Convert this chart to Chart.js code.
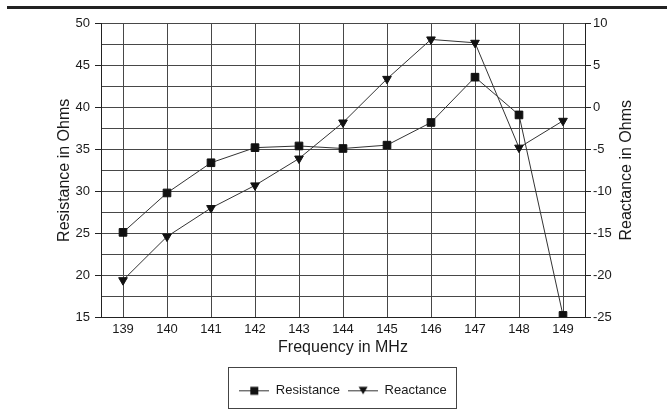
<!DOCTYPE html>
<html>
<head>
<meta charset="utf-8">
<script src="https://cdn.jsdelivr.net/npm/chart.js@4/dist/chart.umd.min.js"></script>
<style>
  html, body { margin: 0; padding: 0; background: #fff; }
  #wrap { position: relative; width: 667px; height: 410px; }
</style>
</head>
<body>
<div id="wrap"><canvas id="chart" width="667" height="410"></canvas></div>
<script>
// 数据
const frequencies = ['139', '140', '141', '142', '143', '144', '145', '146', '147', '148', '149'];
const resistance = [25.1, 29.8, 33.4, 35.2, 35.4, 35.1, 35.5, 38.2, 43.6, 39.1, 15.2];
const reactance = [-20.6, -15.4, -12.0, -9.3, -6.1, -1.8, 3.4, 8.1, 7.7, -4.8, -1.6];

const FONT = 'Liberation Sans, Arial, sans-serif';
const INK = '#1a1a1a';
const GRID = '#474747';

// 图例图标：线 + 标记
function legendIcon(kind) {
  const c = document.createElement('canvas');
  c.width = 30; c.height = 12;
  const g = c.getContext('2d');
  g.strokeStyle = '#333';
  g.lineWidth = 1;
  g.beginPath(); g.moveTo(0, 6.5); g.lineTo(30, 6.5); g.stroke();
  g.fillStyle = '#111';
  if (kind === 'rect') {
    g.fillRect(11, 2.5, 8, 8);
  } else {
    g.beginPath(); g.moveTo(10.5, 2.5); g.lineTo(19.5, 2.5); g.lineTo(15, 10); g.closePath(); g.fill();
  }
  return c;
}

const decor = {
  id: 'decor',
  beforeDraw(chart) {
    const ctx = chart.ctx;
    ctx.save();
    ctx.fillStyle = '#222';
    ctx.fillRect(7, 6, 660, 3);
    ctx.restore();
  },
  afterDraw(chart) {
    const ctx = chart.ctx;
    const area = chart.chartArea;
    ctx.save();
    // 右侧轴标题（自下而上）
    ctx.font = `16px ${FONT}`;
    ctx.fillStyle = INK;
    ctx.textAlign = 'center';
    ctx.textBaseline = 'middle';
    ctx.translate(627, (area.top + area.bottom) / 2);
    ctx.rotate(-Math.PI / 2);
    ctx.fillText('Reactance in Ohms', 0, 0);
    ctx.restore();

    // 图例边框
    const boxes = chart.legend.legendHitBoxes;
    if (boxes && boxes.length) {
      const first = boxes[0];
      const last = boxes[boxes.length - 1];
      const left = Math.round(first.left - 11) + 0.5;
      const right = Math.round(last.left + last.width + 9) + 0.5;
      ctx.save();
      ctx.strokeStyle = '#444';
      ctx.lineWidth = 1;
      ctx.strokeRect(left, 367.5, right - left, 41);
      ctx.restore();
    }
  },
};

new Chart(document.getElementById('chart').getContext('2d'), {
  type: 'line',
  data: {
    labels: frequencies,
    datasets: [
      {
        label: 'Resistance',
        data: resistance,
        yAxisID: 'y',
        borderColor: '#333',
        borderWidth: 1,
        backgroundColor: '#111',
        pointBackgroundColor: '#111',
        pointBorderColor: '#111',
        pointStyle: 'rect',
        pointRadius: 5.4,
        pointBorderWidth: 1,
        tension: 0,
        fill: false,
      },
      {
        label: 'Reactance',
        data: reactance,
        yAxisID: 'y2',
        borderColor: '#333',
        borderWidth: 1,
        backgroundColor: '#111',
        pointBackgroundColor: '#111',
        pointBorderColor: '#111',
        pointStyle: 'triangle',
        pointRotation: 180,
        pointRadius: 5,
        pointBorderWidth: 1,
        tension: 0,
        fill: false,
      },
    ],
  },
  options: {
    responsive: false,
    animation: false,
    layout: { padding: { left: 0, right: 0, top: 23.5, bottom: 3.2 } },
    plugins: {
      tooltip: { enabled: false },
      legend: {
        position: 'bottom',
        fullSize: false,
        labels: {
          usePointStyle: true,
          pointStyleWidth: 30,
          padding: 8,
          color: INK,
          font: { family: FONT, size: 13 },
          generateLabels: (chart) => chart.data.datasets.map((ds, i) => ({
            text: ds.label,
            pointStyle: legendIcon(i === 0 ? 'rect' : 'tri'),
            fillStyle: '#111',
            strokeStyle: '#111',
            lineWidth: 0,
            hidden: false,
            datasetIndex: i,
            fontColor: INK,
          })),
        },
      },
    },
    scales: {
      x: {
        offset: true,
        grid: { color: GRID, drawTicks: false, offset: false },
        border: { color: '#222' },
        ticks: { color: INK, font: { family: FONT, size: 13 }, padding: 5, autoSkip: false, maxRotation: 0 },
        title: {
          display: true,
          text: 'Frequency in MHz',
          color: INK,
          font: { family: FONT, size: 16 },
          padding: { top: 0, bottom: 18.6 },
        },
        afterFit: (s) => { s.height = 58.7; },
      },
      y: {
        position: 'left',
        min: 15,
        max: 50,
        grid: {
          color: GRID,
          tickLength: 6,
          tickColor: (c) => (c.tick && c.tick.value % 5 === 0 ? '#222' : 'rgba(0,0,0,0)'),
        },
        border: { color: '#222' },
        ticks: {
          stepSize: 2.5,
          autoSkip: false,
          padding: 5,
          color: INK,
          font: { family: FONT, size: 13 },
          callback: (v) => (v % 5 === 0 ? String(v) : ''),
        },
        title: {
          display: true,
          text: 'Resistance in Ohms',
          color: INK,
          font: { family: FONT, size: 16 },
          padding: { top: 55.4, bottom: 0 },
        },
        afterFit: (s) => { s.width = 101; },
      },
      y2: {
        position: 'right',
        min: -25,
        max: 10,
        grid: { drawOnChartArea: false, tickLength: 6, tickColor: '#222' },
        border: { color: '#222' },
        ticks: {
          stepSize: 5,
          autoSkip: false,
          padding: 2,
          color: INK,
          font: { family: FONT, size: 13 },
        },
        afterFit: (s) => { s.width = 82; },
      },
    },
  },
  plugins: [decor],
});
</script>
</body>
</html>
